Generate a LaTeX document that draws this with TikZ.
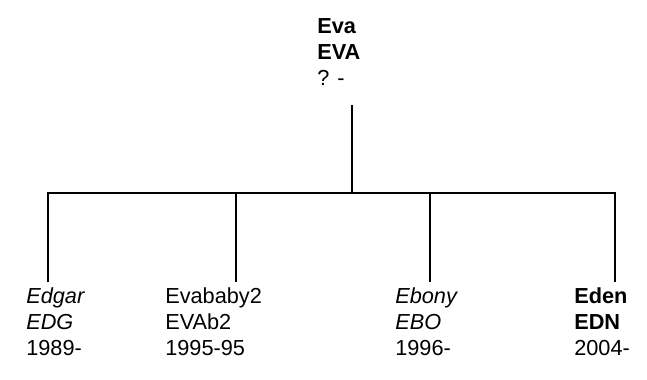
\documentclass[tikz,border=0pt]{standalone}
\usepackage{fontspec}
\setmainfont{Liberation Sans}
\tikzset{
  person/.style={anchor=base west,align=left,inner sep=0pt,font=\fontsize{16.3}{19.5}\selectfont},
  tie/.style={line width=1.1pt}
}
\begin{document}
\begin{tikzpicture}[x=0.75pt,y=-0.75pt]
\useasboundingbox (0,0) rectangle (647,379);
\node[person] (eva) at (317,85) {\textbf{Eva}\\\textbf{EVA}\\? -};
\node[person] (edgar) at (26,355) {\textit{Edgar}\\\textit{EDG}\\1989-};
\node[person] (evababy) at (165,355) {Evababy2\\EVAb2\\1995-95};
\node[person] (ebony) at (395,355) {\textit{Ebony}\\\textit{EBO}\\1996-};
\node[person] (eden) at (574,355) {\textbf{Eden}\\\textbf{EDN}\\2004-};
\coordinate (stem) at (352,105);
\coordinate (fork) at (352,193);
\coordinate (edgar up) at (48,282);
\coordinate (evababy up) at (236,282);
\coordinate (ebony up) at (430,282);
\coordinate (eden up) at (615,282);
\draw[tie] (stem) -- (fork);
\foreach \kid in {edgar,evababy,ebony,eden}
  \draw[tie] (\kid\space up) |- (fork);
\end{tikzpicture}
\end{document}
